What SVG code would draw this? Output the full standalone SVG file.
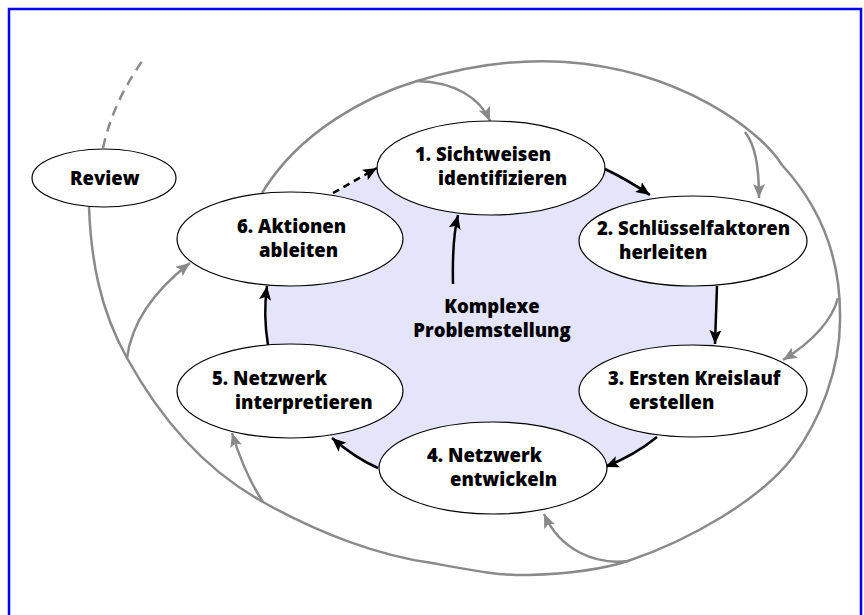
<svg xmlns="http://www.w3.org/2000/svg" width="864" height="615" viewBox="0 0 864 615">
<defs>
<marker id="ah-gray" markerUnits="userSpaceOnUse" markerWidth="15" markerHeight="12" refX="14" refY="6" orient="auto"><path d="M0,0 L14,6 L0,12 L3,6 Z" fill="#8a8a8a"/></marker>
<marker id="ah-black" markerUnits="userSpaceOnUse" markerWidth="15" markerHeight="12" refX="14" refY="6" orient="auto"><path d="M0,0 L14,6 L0,12 L3,6 Z" fill="#000"/></marker>
</defs>
<style>
.node ellipse{fill:#fff;stroke:#000;stroke-width:1.2}
.node text{font-family:"Open Sans","Liberation Sans",sans-serif;font-weight:800;font-size:18.5px;fill:#000}
.g{fill:none;stroke:#8a8a8a;stroke-width:2.5}
.ga{fill:none;stroke:#8a8a8a;stroke-width:2.5;marker-end:url(#ah-gray)}
.b{fill:none;stroke:#000;stroke-width:2.5;marker-end:url(#ah-black)}
.lbl{font-family:"Open Sans","Liberation Sans",sans-serif;font-weight:800;font-size:18.5px;fill:#000}
</style>
<rect x="9" y="9" width="852" height="620" fill="#fff" stroke="#0000ff" stroke-width="2.5"/>
<path id="fill" d="M268,345 Q263,315 267,286 L333,193 L377,168 L605,169 Q628,180 650,195 L717,286 L715,344 L657,437 Q635,455 605,467 L378,468 Q355,458 332,438 Z" fill="#e4e4fa"/>
<g id="connectors">
<path class="g" d="M89,207 C91,260 100,310 127,358 C160,418 205,470 263,502 C320,534 380,556 432,563 C470,570 500,576 529,575 C565,574 600,570 628,561 C690,540 760,500 793,457 C820,420 840,370 840,320 C841,270 828,215 782,165 C760,130 680,70 565,62 C510,58 460,68 417,81 C370,95 300,130 262,193"/>
<path class="g" d="M103,148 C110,115 125,85 145,57" stroke-dasharray="10,7"/>
<path class="ga" d="M127,358 C132,320 155,290 190,263"/>
<path class="ga" d="M263,502 Q245,475 232,433"/>
<path class="ga" d="M628,561 C595,565 560,550 544,514"/>
<path class="ga" d="M838,298 C832,320 815,340 783,360"/>
<path class="ga" d="M745,132 C755,145 759,165 759,198"/>
<path class="ga" d="M417,81 C455,82 480,98 490,121"/>
<path class="b" d="M605,169 Q628,180 650,195"/>
<path class="b" d="M717,286 L715,344"/>
<path class="b" d="M657,437 Q635,455 605,467"/>
<path class="b" d="M378,468 Q355,458 332,438"/>
<path class="b" d="M268,345 Q263,315 267,286"/>
<path class="b" d="M333,193 L377,168" stroke-dasharray="7,5"/>
<path class="b" d="M453,284 Q452,240 458,215"/>
</g>
<g id="node-review" class="node"><ellipse cx="104" cy="178" rx="72" ry="29"/><text x="70" y="185">Review</text></g>
<g id="node-6" class="node"><ellipse cx="290" cy="239" rx="113" ry="47"/><text x="237" y="233">6. Aktionen</text><text x="259" y="257">ableiten</text></g>
<g id="node-1" class="node"><ellipse cx="491" cy="168" rx="114" ry="47"/><text x="415" y="161">1. Sichtweisen</text><text x="438" y="185">identifizieren</text></g>
<g id="node-2" class="node"><ellipse cx="693" cy="241" rx="114" ry="45"/><text x="597" y="235">2. Schlüsselfaktoren</text><text x="619" y="259">herleiten</text></g>
<g id="node-3" class="node"><ellipse cx="693" cy="391" rx="114" ry="46"/><text x="608" y="385">3. Ersten Kreislauf</text><text x="629" y="409">erstellen</text></g>
<g id="node-4" class="node"><ellipse cx="493" cy="468" rx="114" ry="46"/><text x="427" y="462">4. Netzwerk</text><text x="450" y="486">entwickeln</text></g>
<g id="node-5" class="node"><ellipse cx="290" cy="391" rx="113" ry="47"/><text x="212" y="385">5. Netzwerk</text><text x="235" y="409">interpretieren</text></g>
<g id="label-problem"><text class="lbl" x="492" y="313" text-anchor="middle">Komplexe</text><text class="lbl" x="492" y="337" text-anchor="middle">Problemstellung</text></g>
</svg>
